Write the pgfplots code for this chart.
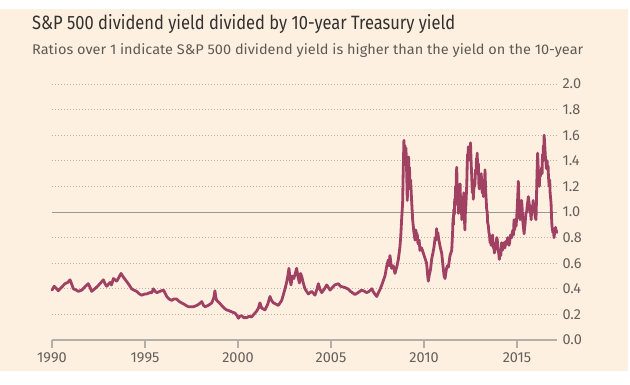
\documentclass[border=0pt]{standalone}
\usepackage{pgfplots}
\pgfplotsset{compat=1.18}
\usepackage{fontspec}
\setmainfont{Fira Sans}
\definecolor{bgpeach}{HTML}{FDF0E1}
\definecolor{linec}{RGB}{160,64,98}
\definecolor{ticktext}{HTML}{66605C}
\definecolor{titlec}{HTML}{33302E}
\definecolor{subc}{HTML}{5F5A55}
\definecolor{gridc}{HTML}{B8B1A9}
\definecolor{axisc}{HTML}{B5AEA7}
\definecolor{onec}{HTML}{979797}
\begin{document}
\begin{tikzpicture}
\useasboundingbox (0,0) rectangle (630pt,384pt);
\fill[white] (0,0) rectangle (630pt,384pt);
\fill[bgpeach] (0,13pt) rectangle (628pt,375pt);
\node[anchor=base west, inner sep=0pt, text=titlec] at (32pt,355pt)
  {\resizebox{423pt}{\height}{\fontsize{19.3}{22}\selectfont S\&P 500 dividend yield divided by 10-year Treasury yield}};
\node[anchor=base west, inner sep=0pt, text=subc] at (32pt,330pt)
  {\resizebox{551pt}{\height}{\fontsize{14}{16}\selectfont Ratios over 1 indicate S\&P 500 dividend yield is higher than the yield on the 10-year}};
\begin{axis}[
  at={(52pt,44pt)}, anchor=south west,
  scale only axis, width=505pt, height=256pt,
  xmin=1990, xmax=2017.15, ymin=0, ymax=2,
  axis x line=bottom, axis y line=right,
  x axis line style={-, draw=axisc, line width=1.2pt},
  y axis line style={draw=none},
  xtick={1990,1995,2000,2005,2010,2015},
  xticklabels={1990,1995,2000,2005,2010,2015},
  ytick={0,0.2,...,2.0},
  yticklabel={\pgfmathprintnumber[fixed,fixed zerofill,precision=1]{\tick}},
  xtick align=outside,
  x tick style={draw=axisc, line width=1.2pt},
  y tick style={draw=none},
  major tick length=8pt,
  ymajorgrids,
  grid style={draw=gridc, line width=0.9pt, dash pattern=on 0.9pt off 2.1pt},
  tick label style={font=\fontsize{14.5}{16}\selectfont, text=ticktext},
  x tick label style={yshift=-1pt},
  y tick label style={anchor=west, xshift=-2pt},
  /pgf/number format/assume math mode=true,
  clip=false,
]
\draw[onec, line width=0.9pt] (axis cs:1990,1) -- (axis cs:2017.15,1);
\addplot[linec, line width=2.8pt, line join=round, line cap=round] coordinates {
(1990.00,0.39) (1990.12,0.42) (1990.25,0.40) (1990.34,0.385) (1990.5,0.41) (1990.7,0.44) (1990.85,0.45) (1990.97,0.47)
(1991.05,0.44) (1991.15,0.40) (1991.3,0.39) (1991.42,0.38) (1991.6,0.39) (1991.8,0.42) (1991.95,0.44) (1992.05,0.41)
(1992.13,0.38) (1992.3,0.40) (1992.45,0.42) (1992.58,0.44) (1992.76,0.47) (1992.85,0.44) (1992.94,0.42) (1993.12,0.45)
(1993.2,0.43) (1993.3,0.48) (1993.48,0.46) (1993.6,0.49) (1993.71,0.52) (1993.84,0.49) (1994.0,0.46) (1994.15,0.43)
(1994.28,0.40) (1994.4,0.39) (1994.55,0.38) (1994.7,0.36) (1994.82,0.35) (1995.0,0.36) (1995.1,0.36) (1995.25,0.37)
(1995.37,0.37) (1995.45,0.40) (1995.55,0.38) (1995.64,0.37) (1995.8,0.38) (1996.0,0.39) (1996.1,0.36) (1996.17,0.34)
(1996.3,0.32) (1996.44,0.31) (1996.55,0.32) (1996.7,0.32) (1996.85,0.30) (1996.97,0.29) (1997.1,0.28) (1997.2,0.27)
(1997.33,0.26) (1997.42,0.26) (1997.6,0.26) (1997.78,0.27) (1997.9,0.28) (1998.05,0.30) (1998.15,0.27) (1998.23,0.26)
(1998.4,0.27) (1998.59,0.29) (1998.7,0.33) (1998.76,0.385) (1998.8,0.34) (1998.85,0.31) (1999.0,0.29) (1999.12,0.27)
(1999.25,0.25) (1999.39,0.235) (1999.5,0.23) (1999.66,0.22) (1999.84,0.21) (1999.95,0.19) (2000.02,0.17) (2000.1,0.185)
(2000.2,0.19) (2000.3,0.175) (2000.47,0.175) (2000.6,0.185) (2000.73,0.18) (2000.85,0.20) (2001.0,0.225) (2001.1,0.25)
(2001.18,0.29) (2001.27,0.25) (2001.45,0.235) (2001.6,0.28) (2001.72,0.34) (2001.8,0.31) (2001.9,0.29) (2002.05,0.28)
(2002.17,0.27) (2002.35,0.31) (2002.45,0.36) (2002.53,0.40) (2002.62,0.455) (2002.68,0.50) (2002.74,0.56) (2002.8,0.47) (2002.85,0.43)
(2002.92,0.50) (2003.0,0.48) (2003.08,0.52) (2003.15,0.56) (2003.22,0.50) (2003.3,0.445) (2003.36,0.52) (2003.42,0.50) (2003.5,0.45) (2003.6,0.40)
(2003.78,0.36) (2003.96,0.38) (2004.14,0.35) (2004.25,0.40) (2004.32,0.44) (2004.4,0.40) (2004.5,0.37) (2004.65,0.40)
(2004.77,0.43) (2004.95,0.39) (2005.2,0.43) (2005.4,0.44) (2005.5,0.42) (2005.75,0.41) (2005.9,0.40) (2006.05,0.38)
(2006.29,0.355) (2006.45,0.37) (2006.65,0.39) (2006.8,0.38) (2006.92,0.37) (2007.05,0.38) (2007.19,0.40) (2007.3,0.37)
(2007.46,0.34) (2007.55,0.37) (2007.65,0.40) (2007.73,0.43) (2007.9,0.50) (2008.0,0.58) (2008.08,0.625) (2008.12,0.58) (2008.17,0.66)
(2008.22,0.60) (2008.26,0.56) (2008.35,0.58) (2008.44,0.52) (2008.55,0.58) (2008.62,0.63) (2008.7,0.72) (2008.75,0.81)
(2008.8,0.95) (2008.85,1.07) (2008.88,1.30) (2008.92,1.56) (2008.95,1.45) (2008.97,1.52) (2009.0,1.40) (2009.03,1.50) (2009.07,1.30) (2009.1,1.09)
(2009.14,1.30) (2009.17,1.43) (2009.2,1.28) (2009.22,1.35) (2009.25,1.18) (2009.28,1.25) (2009.33,1.10) (2009.39,0.94) (2009.45,0.85) (2009.52,0.78)
(2009.55,0.86) (2009.58,0.84) (2009.64,0.82) (2009.67,0.76) (2009.7,0.75) (2009.74,0.78) (2009.78,0.70) (2009.87,0.72) (2009.96,0.68) (2010.05,0.64) (2010.14,0.60)
(2010.2,0.50) (2010.23,0.46) (2010.3,0.52) (2010.35,0.55) (2010.41,0.63) (2010.48,0.68) (2010.54,0.73) (2010.6,0.80)
(2010.64,0.78) (2010.68,0.87) (2010.71,0.80) (2010.74,0.84) (2010.8,0.78) (2010.88,0.72) (2010.95,0.68) (2011.02,0.58) (2011.08,0.50) (2011.13,0.48)
(2011.2,0.55) (2011.25,0.58) (2011.31,0.57) (2011.4,0.66) (2011.49,0.70)
(2011.54,0.85) (2011.56,0.95) (2011.58,0.90) (2011.6,1.02) (2011.63,0.98) (2011.65,1.10) (2011.67,1.05) (2011.7,1.20)
(2011.72,1.15) (2011.74,1.30) (2011.76,1.35) (2011.78,1.20) (2011.8,1.10) (2011.82,1.18) (2011.85,0.99) (2011.87,1.08)
(2011.9,1.05) (2011.92,1.20) (2011.94,1.22) (2011.96,1.10) (2011.98,1.05) (2012.0,1.12) (2012.03,0.94) (2012.05,1.05)
(2012.08,1.00) (2012.1,1.12) (2012.12,1.08) (2012.14,1.15) (2012.16,1.00) (2012.18,0.92) (2012.2,0.86) (2012.22,0.98)
(2012.25,1.05) (2012.28,1.15) (2012.3,1.22) (2012.32,1.35) (2012.34,1.45) (2012.36,1.40) (2012.38,1.51) (2012.41,1.44)
(2012.44,1.50) (2012.47,1.42) (2012.5,1.54) (2012.53,1.40) (2012.56,1.30) (2012.58,1.22) (2012.6,1.15) (2012.63,1.22)
(2012.65,1.10) (2012.68,1.18) (2012.7,1.25) (2012.73,1.20) (2012.77,1.33) (2012.8,1.30) (2012.82,1.42) (2012.84,1.38)
(2012.86,1.46) (2012.89,1.30) (2012.92,1.38) (2012.95,1.22) (2012.97,1.18) (2013.0,1.28) (2013.03,1.22) (2013.07,1.30)
(2013.1,1.25) (2013.13,1.15) (2013.16,1.22) (2013.19,1.12) (2013.22,1.25) (2013.25,1.20) (2013.28,1.33) (2013.31,1.18)
(2013.34,1.10) (2013.37,1.02) (2013.4,1.00) (2013.42,0.92) (2013.46,0.89) (2013.49,0.84) (2013.52,0.82) (2013.55,0.76) (2013.58,0.78)
(2013.61,0.74) (2013.64,0.80) (2013.67,0.76) (2013.69,0.82) (2013.72,0.72) (2013.75,0.75) (2013.78,0.68) (2013.82,0.70) (2013.85,0.76) (2013.88,0.74) (2013.91,0.80) (2013.94,0.78) (2013.97,0.72) (2014.0,0.70) (2014.05,0.63)
(2014.08,0.68) (2014.1,0.70) (2014.13,0.66) (2014.17,0.76) (2014.21,0.70) (2014.25,0.72) (2014.3,0.76) (2014.35,0.72) (2014.4,0.77) (2014.45,0.75) (2014.5,0.80) (2014.53,0.78) (2014.57,0.74) (2014.6,0.76) (2014.65,0.82) (2014.71,0.80)
(2014.75,0.84) (2014.78,0.86) (2014.81,0.82) (2014.84,0.94) (2014.87,0.86) (2014.9,0.90) (2014.95,0.89) (2014.98,0.95) (2015.0,1.00) (2015.04,1.12) (2015.07,1.24) (2015.1,1.10) (2015.12,1.05) (2015.14,0.98) (2015.16,0.94)
(2015.18,0.98) (2015.2,1.00) (2015.23,1.05) (2015.25,1.09) (2015.28,1.02) (2015.3,0.95) (2015.33,0.90) (2015.36,0.86) (2015.38,0.83) (2015.41,0.88) (2015.43,0.90) (2015.46,0.96) (2015.48,0.99) (2015.52,1.00) (2015.55,1.05) (2015.58,1.08) (2015.61,1.12)
(2015.64,1.08) (2015.67,1.05) (2015.7,1.00) (2015.73,0.99) (2015.76,0.94) (2015.8,1.05) (2015.83,1.00) (2015.87,1.09) (2015.91,1.02) (2015.95,1.00) (2015.98,0.96) (2016.02,0.94) (2016.04,1.05) (2016.06,1.20) (2016.08,1.32) (2016.11,1.46)
(2016.13,1.38) (2016.15,1.30) (2016.17,1.22) (2016.2,1.20) (2016.23,1.30) (2016.26,1.28) (2016.3,1.32) (2016.33,1.35) (2016.35,1.30) (2016.37,1.45) (2016.4,1.40) (2016.42,1.52) (2016.44,1.48) (2016.46,1.60) (2016.48,1.55) (2016.5,1.50)
(2016.53,1.42) (2016.55,1.41) (2016.58,1.34) (2016.6,1.36) (2016.62,1.40) (2016.64,1.33) (2016.67,1.36) (2016.69,1.28) (2016.71,1.24) (2016.73,1.20) (2016.76,1.25) (2016.78,1.15) (2016.83,1.07) (2016.86,0.95)
(2016.88,0.89) (2016.93,0.84) (2016.96,0.86) (2016.99,0.80) (2017.03,0.85) (2017.07,0.88) (2017.1,0.86) (2017.14,0.84)
};
\end{axis}
\end{tikzpicture}
\end{document}
